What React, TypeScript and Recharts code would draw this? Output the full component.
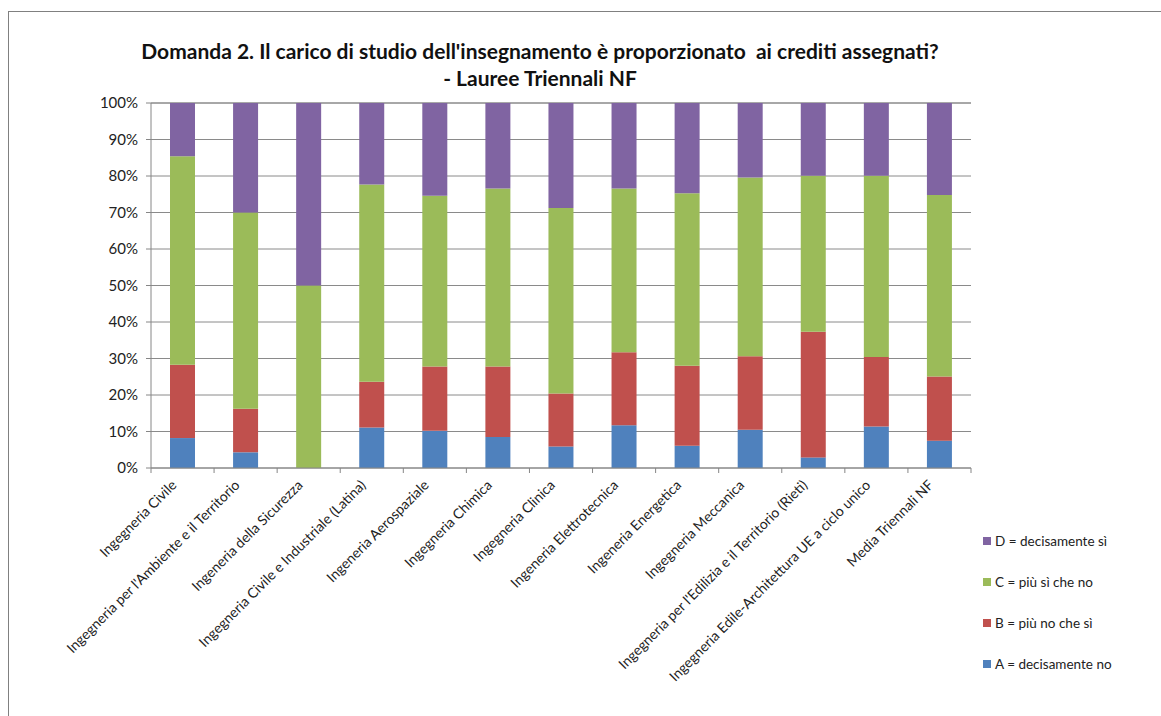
import React from 'react';
import { BarChart, Bar, XAxis, YAxis, CartesianGrid } from 'recharts';

const corsi = [
  'Ingegneria Civile',
  "Ingegneria per l'Ambiente e il Territorio",
  'Ingeneria della Sicurezza',
  'Ingegneria Civile e Industriale  (Latina)',
  'Ingeneria Aerospaziale',
  'Ingegneria Chimica',
  'Ingegneria Clinica',
  'Ingeneria Elettrotecnica',
  'Ingeneria Energetica',
  'Ingegneria Meccanica',
  "Ingegneria per l'Edilizia e il Territorio (Rieti)",
  'Ingegneria Edile-Architettura UE a ciclo unico',
  'Media Triennali NF',
];

const decisamenteNo = [8.2, 4.3, 0, 11.1, 10.2, 8.5, 5.9, 11.7, 6.1, 10.5, 2.9, 11.4, 7.5];
const piuNoCheSi = [20.1, 11.9, 0, 12.5, 17.6, 19.3, 14.5, 20.0, 21.9, 20.1, 34.4, 19.0, 17.6];
const piuSiCheNo = [57.1, 53.8, 50.0, 54.1, 46.8, 48.8, 50.8, 44.9, 47.3, 49.0, 42.8, 49.7, 49.7];
const decisamenteSi = [14.6, 30.0, 50.0, 22.3, 25.4, 23.4, 28.8, 23.4, 24.7, 20.4, 19.9, 19.9, 25.2];

const yTicks = [0, 10, 20, 30, 40, 50, 60, 70, 80, 90, 100];

const series = [
  { key: 'A', name: 'A = decisamente no', color: '#4F81BD' },
  { key: 'B', name: 'B =  più no che sì', color: '#C0504D' },
  { key: 'C', name: 'C = più sì che no', color: '#9BBB59' },
  { key: 'D', name: 'D = decisamente sì', color: '#8064A2' },
];

const data = corsi.map((name, i) => ({
  name,
  A: decisamenteNo[i],
  B: piuNoCheSi[i],
  C: piuSiCheNo[i],
  D: decisamenteSi[i],
}));

const font = 'Lato, "Open Sans", sans-serif';
const half = 820 / corsi.length / 2;

const CategoryTick = (props: any) => {
  const { x, y, payload, index } = props;
  const last = index === corsi.length - 1;
  const ax = x - 5;
  const ay = y + 10;
  return (
    <g>
      <line x1={x - half} y1={y - 8} x2={x - half} y2={y - 3} stroke="#868686" />
      {last && <line x1={x + half} y1={y - 8} x2={x + half} y2={y - 3} stroke="#868686" />}
      <text
        x={ax}
        y={ay}
        transform={`rotate(-45, ${ax}, ${ay})`}
        textAnchor="end"
        fontSize={14}
        fontFamily={font}
        fill="#222"
      >
        {payload.value}
      </text>
    </g>
  );
};

export default function App() {
  return (
    <div style={{ position: 'absolute', left: 0, top: 0, width: 1161, height: 716, background: '#fff', fontFamily: font }}>
      <div style={{ position: 'absolute', left: 8, top: 11, width: 1153, height: 705, borderTop: '1.5px solid #808080', borderLeft: '1.5px solid #808080' }} />
      <div style={{ position: 'absolute', left: 90, width: 900, top: 37, textAlign: 'center', fontWeight: 700, fontSize: 21, lineHeight: '27px', color: '#111' }}>
        <div>Domanda 2. Il carico di studio dell'insegnamento è proporzionato&nbsp; ai crediti assegnati?</div>
        <div>- Lauree Triennali NF</div>
      </div>
      <BarChart
        width={1161}
        height={716}
        data={data}
        margin={{ top: 103, right: 190, bottom: 8, left: 101 }}
        barSize={25}
      >
        <CartesianGrid vertical={false} stroke="#8a8a8a" />
        <XAxis
          dataKey="name"
          interval={0}
          height={240}
          axisLine={{ stroke: '#868686' }}
          tickLine={false}
          tick={<CategoryTick />}
        />
        <YAxis
          domain={[0, 100]}
          ticks={yTicks}
          width={50}
          axisLine={{ stroke: '#868686' }}
          tickLine={{ stroke: '#868686' }}
          tickSize={5}
          tickMargin={8}
          tickFormatter={(v: number) => `${v}%`}
          tick={{ fontSize: 15, fontFamily: font, fill: '#222' }}
        />
        {series.map((s) => (
          <Bar key={s.key} dataKey={s.key} name={s.name} stackId="tot" fill={s.color} isAnimationActive={false} />
        ))}
      </BarChart>
      <div style={{ position: 'absolute', left: 983, top: 520, fontSize: 13.5, color: '#222' }}>
        {[...series].reverse().map((s) => (
          <div key={s.key} style={{ display: 'flex', alignItems: 'center', height: 41 }}>
            <span style={{ width: 8, height: 8, background: s.color, marginRight: 4, display: 'inline-block' }} />
            <span>{s.name}</span>
          </div>
        ))}
      </div>
    </div>
  );
}
